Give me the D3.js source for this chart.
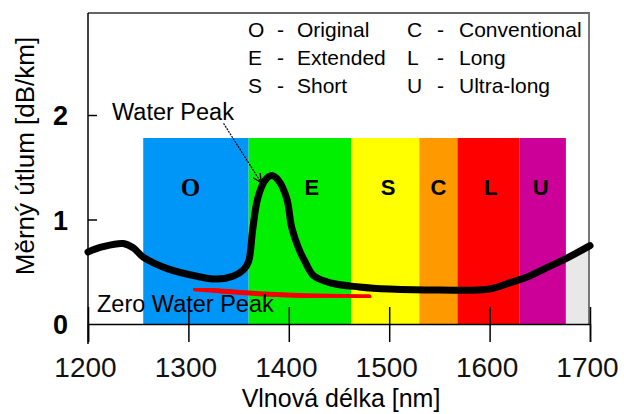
<!DOCTYPE html>
<meta charset="utf-8">
<style>
body { margin: 0; background: #fff; }
.chart text { font-family: "Liberation Sans", Arial, sans-serif; fill: #000; }
.legend text { font-size: 21px; }
.band text { font-size: 22px; font-weight: bold; text-anchor: middle; }
.xaxis text { font-size: 28px; fill: #111; }
.yaxis text { font-size: 27px; font-weight: bold; }
.note { font-size: 23.5px; }
.title { font-size: 26px; text-anchor: middle; }
</style>
<svg class="chart"></svg>
<script src="https://cdn.jsdelivr.net/npm/d3@7"></script>
<script>

// bands (nm)
var bandNames = ["O", "E", "S", "C", "L", "U"];
var bandStart = [1255, 1360, 1462, 1530, 1568, 1630];
var bandEnd = [1360, 1462, 1530, 1568, 1630, 1676];
var bandColors = ["#0096f8", "#00f000", "#ffff00", "#ff9900", "#ff0000", "#cc0099"];
var bandLabelX = [1302, 1423, 1499, 1549, 1601, 1651];
var bandTop = 1.78;

// legend
var legendKeys = [["O", "E", "S"], ["C", "L", "U"]];
var legendNames = [["Original", "Extended", "Short"], ["Conventional", "Long", "Ultra-long"]];

// attenuation curve
var curveNm = [1200, 1215, 1235, 1245, 1255, 1279, 1312, 1328, 1345, 1355, 1360, 1364, 1369, 1376, 1383, 1390, 1398, 1403, 1410, 1416, 1425, 1443, 1470, 1500, 1550, 1600, 1622, 1640, 1655, 1675, 1700];
var curveDb = [0.69, 0.74, 0.77, 0.73, 0.64, 0.53, 0.45, 0.43, 0.46, 0.52, 0.6, 0.9, 1.2, 1.37, 1.42, 1.37, 1.2, 0.92, 0.72, 0.6, 0.46, 0.39, 0.355, 0.335, 0.325, 0.335, 0.4, 0.46, 0.53, 0.62, 0.75];

// zero water peak fibre
var zeroNm = [1307, 1350, 1400, 1440, 1480];
var zeroDb = [0.335, 0.3, 0.275, 0.265, 0.26];

var xTicks = [1200, 1300, 1400, 1500, 1600, 1700];
var yTicks = [0, 1, 2];

var width = 624, height = 414;

var svg = d3.select(".chart")
	.attr("width", width)
	.attr("height", height);

var x = d3.scaleLinear().domain([1200, 1700]).range([88, 590]);
var y = d3.scaleLinear().domain([0, 2]).range([324, 115]);

var defs = svg.append("defs");

// bands
var bands = svg.selectAll("g.band").data(bandNames)
	.enter().append("g")
	.attr("class", "band");

bands.append("rect")
	.attr("x", function(d, i) { return x(bandStart[i]); })
	.attr("y", y(bandTop))
	.attr("width", function(d, i) { return x(bandEnd[i]) - x(bandStart[i]); })
	.attr("height", y(0) - y(bandTop))
	.attr("fill", function(d, i) { return bandColors[i]; });

bands.append("text")
	.attr("x", function(d, i) { return x(bandLabelX[i]); })
	.attr("y", function(d) { return d == "O" ? 196 : 195; })
	.style("font-family", function(d) { return d == "O" ? "Liberation Serif, serif" : null; })
	.style("font-size", function(d) { return d == "O" ? "25px" : null; })
	.text(function(d) { return d; });

// gray strip after U band, filled up to the curve
var tail = curveNm.map(function(d, i) { return [d, curveDb[i]]; })
	.filter(function(p) { return p[0] >= 1675; });
tail[0] = [1676, tail[0][1]];
svg.append("path")
	.datum(tail)
	.attr("d", d3.area().x(function(p) { return x(p[0]); }).y0(y(0)).y1(function(p) { return y(p[1]); }))
	.attr("fill", "#e8e8e8");

// frame
svg.append("line")
	.attr("x1", x(1200)).attr("x2", x(1700))
	.attr("y1", 13).attr("y2", 13)
	.attr("stroke", "#666").attr("stroke-width", 2);
svg.append("line")
	.attr("x1", 589).attr("x2", 589)
	.attr("y1", 13).attr("y2", y(0))
	.attr("stroke", "#777").attr("stroke-width", 2);

// legend
legendKeys.forEach(function(col, c) {
	var g = svg.append("g").attr("class", "legend");
	var kx = [248, 407][c], dx = [277, 437][c], nx = [297, 459][c];
	col.forEach(function(k, r) {
		var by = 37 + r * 28;
		g.append("text").attr("x", kx).attr("y", by).text(k);
		g.append("text").attr("x", dx).attr("y", by).text("-");
		g.append("text").attr("x", nx).attr("y", by).text(legendNames[c][r]);
	});
});

// axes
var xAxis = svg.append("g")
	.attr("class", "xaxis")
	.attr("transform", "translate(0," + y(0) + ")")
	.call(d3.axisBottom(x).tickValues(xTicks).tickSize(18).tickPadding(15).tickFormat(d3.format("d")));
xAxis.select(".domain").attr("stroke", "#000").attr("stroke-width", 1.5);
xAxis.selectAll(".tick line").attr("y1", -17).attr("stroke-width", 1.5);
xAxis.selectAll(".tick text").attr("dx", -3).style("font-family", "Liberation Sans, Arial, sans-serif");

var yAxis = svg.append("g")
	.attr("class", "yaxis")
	.attr("transform", "translate(" + x(1200) + ",0)")
	.call(d3.axisLeft(y).tickValues(yTicks).tickSize(12).tickPadding(8).tickFormat(d3.format("d")));
yAxis.select(".domain").remove();
yAxis.selectAll(".tick line").attr("x2", function(d) { return d == 0 ? 0 : 9; }).attr("stroke-width", 1.5);
yAxis.selectAll(".tick text").attr("dy", "0.36em").style("font-family", "Liberation Sans, Arial, sans-serif");
svg.append("line")
	.attr("x1", x(1200)).attr("x2", x(1200))
	.attr("y1", 13).attr("y2", 344)
	.attr("stroke", "#000").attr("stroke-width", 1.5);

// red zero water peak line
defs.append("filter").attr("id", "soft")
	.append("feGaussianBlur").attr("stdDeviation", 0.7);
svg.append("path")
	.datum(zeroNm)
	.attr("d", d3.line().x(function(d) { return x(d); }).y(function(d, i) { return y(zeroDb[i]); }).curve(d3.curveBasis))
	.attr("fill", "none")
	.attr("stroke", "#f40000")
	.attr("stroke-width", 5)
	.attr("stroke-linecap", "round")
	.attr("filter", "url(#soft)");

svg.append("text")
	.attr("class", "note")
	.attr("x", 97).attr("y", 312)
	.text("Zero Water Peak");

// main curve
svg.append("path")
	.datum(curveNm)
	.attr("d", d3.line().x(function(d) { return x(d); }).y(function(d, i) { return y(curveDb[i]); }).curve(d3.curveCatmullRom))
	.attr("fill", "none")
	.attr("stroke", "#000")
	.attr("stroke-width", 7)
	.attr("stroke-linecap", "round")
	.attr("stroke-linejoin", "round");

// water peak note with arrow
defs.append("marker")
	.attr("id", "arrow")
	.attr("viewBox", "0 0 10 10")
	.attr("refX", 9).attr("refY", 5)
	.attr("markerWidth", 9).attr("markerHeight", 9)
	.attr("markerUnits", "userSpaceOnUse")
	.attr("orient", "auto")
	.append("path")
	.attr("d", "M0,0 L10,5 L0,10")
	.attr("fill", "none")
	.attr("stroke", "#000")
	.attr("stroke-width", 1.5);

svg.append("text")
	.attr("class", "note")
	.attr("x", 112).attr("y", 120)
	.text("Water Peak");

svg.append("line")
	.attr("x1", x(1335)).attr("y1", y(1.92))
	.attr("x2", x(1372)).attr("y2", y(1.36))
	.attr("stroke", "#000")
	.attr("stroke-width", 1.2)
	.attr("stroke-dasharray", "2,1")
	.attr("marker-end", "url(#arrow)");

// axis titles
svg.append("text")
	.attr("class", "title")
	.attr("x", 341).attr("y", 407)
	.style("font-size", "25px")
	.text("Vlnová délka [nm]");

svg.append("text")
	.attr("class", "title")
	.attr("transform", "translate(34,156) rotate(-90)")
	.text("Měrný útlum [dB/km]");

</script>
